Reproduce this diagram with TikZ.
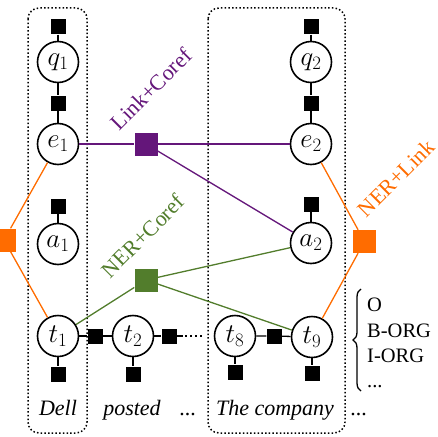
\documentclass[tikz,border=0pt]{standalone}
\usepackage{fix-cm}
\usepackage{fontspec}
\setmainfont{Liberation Serif}
\usetikzlibrary{decorations.pathreplacing}
\definecolor{lpurple}{RGB}{100,22,122}
\definecolor{lgreen}{RGB}{82,125,44}
\definecolor{lorange}{RGB}{255,108,0}
\begin{document}
\begin{tikzpicture}[x=1pt,y=-1pt,
  var/.style={circle,draw,line width=1.6pt,minimum size=41pt,inner sep=0pt,fill=white,font=\fontsize{27}{30}\selectfont},
  fac/.style={rectangle,fill=black,minimum size=15pt,inner sep=0pt},
  bigfac/.style={rectangle,minimum size=23pt,inner sep=0pt},
  edge/.style={line width=1.3pt},
  plate/.style={line width=1.5pt,dash pattern=on 1.5pt off 2.2pt,rounded corners=11pt},
  lbl/.style={font=\fontsize{22}{26}\selectfont\itshape,anchor=base,inner sep=0pt},
  tag/.style={font=\fontsize{20.5}{24}\selectfont,anchor=base west,inner sep=0pt},
  rot/.style={font=\fontsize{22}{26}\selectfont,rotate=45,inner sep=0pt}]
\useasboundingbox (0,0) rectangle (438,436);
% plates
\draw[plate] (28,8) rectangle (87,433);
\draw[plate] (208,8) rectangle (345,433);
% variable nodes
\node[var] (q1) at (58,62) {$q_1$};
\node[var] (e1) at (58,144) {$e_1$};
\node[var] (a1) at (58,244) {$a_1$};
\node[var] (t1) at (58,336) {$t_1$};
\node[var] (t2) at (133,336) {$t_2$};
\node[var] (t8) at (235,336) {$t_8$};
\node[var] (t9) at (312,337) {$t_9$};
\node[var] (q2) at (311,62) {$q_2$};
\node[var] (e2) at (311,144) {$e_2$};
\node[var] (a2) at (311,243) {$a_2$};
% unary / pairwise factors
\node[fac] (fq1) at (58,27) {};
\node[fac] (fqe1) at (58,103) {};
\node[fac] (fa1) at (58,206) {};
\node[fac] (ft1) at (58,374) {};
\node[fac] (ft12) at (95,336) {};
\node[fac] (ft2) at (133,374) {};
\node[fac] (ft2r) at (169,336) {};
\node[fac] (ft8) at (235,372) {};
\node[fac] (ft89) at (274,336) {};
\node[fac] (ft9) at (312,373) {};
\node[fac] (fq2) at (311,27) {};
\node[fac] (fqe2) at (311,103) {};
\node[fac] (fa2) at (311,204) {};
\coordinate (d0) at (183,336);
\coordinate (d1) at (185,336);
\coordinate (d2) at (203,336);
% joint factors
\node[bigfac,fill=lpurple] (lc) at (146,144) {};
\node[bigfac,fill=lgreen] (nc) at (146,280) {};
\node[bigfac,fill=lorange] (ol) at (4,240) {};
\node[bigfac,fill=lorange] (orr) at (364.5,241.5) {};
% black edges
\draw[edge] (fq1) -- (q1) -- (fqe1) -- (e1);
\draw[edge] (fq2) -- (q2) -- (fqe2) -- (e2);
\draw[edge] (fa1) -- (a1);
\draw[edge] (fa2) -- (a2);
\draw[edge] (t1) -- (ft1);
\draw[edge] (t2) -- (ft2);
\draw[edge] (t8) -- (ft8);
\draw[edge] (t9) -- (ft9);
\draw[edge] (t1) -- (ft12) -- (t2) -- (ft2r) -- (d0);
\draw[line width=2pt,dash pattern=on 2pt off 3pt] (d1) -- (d2);
\draw[edge] (t8) -- (ft89) -- (t9);
% coloured edges
\draw[edge,lpurple] (e1) -- (lc) -- (e2);
\draw[edge,lpurple] (lc) -- (a2);
\draw[edge,lgreen] (nc) -- (t1);
\draw[edge,lgreen] (nc) -- (a2);
\draw[edge,lgreen] (nc) -- (t9);
\draw[edge,lorange] (ol) -- (e1);
\draw[edge,lorange] (ol) -- (t1);
\draw[edge,lorange] (orr) -- (e2);
\draw[edge,lorange] (orr) -- (t9);
% rotated labels
\node[rot,text=lpurple] (llc) at (151,89) {Link+Coref};
\node[rot,text=lgreen] (lnc) at (143,236) {NER+Coref};
\node[rot,text=lorange] (lnl) at (396,178) {NER+Link};
% word labels
\node[lbl] (w1) at (58,415) {Dell};
\node[lbl] (w2) at (132,415) {posted};
\node[lbl] (w3) at (188,415) {...};
\node[lbl] (w4) at (275,415) {The company};
\node[lbl] (w5) at (359,415) {...};
% tag set
\draw[line width=1.3pt,decorate,decoration={brace,amplitude=8pt}] (361,391) -- (361,289);
\node[tag] (o1) at (367,311) {O};
\node[tag] (o2) at (367,337) {B-ORG};
\node[tag] (o3) at (367,362) {I-ORG};
\node[tag] (o4) at (367,387) {...};
\end{tikzpicture}
\end{document}
